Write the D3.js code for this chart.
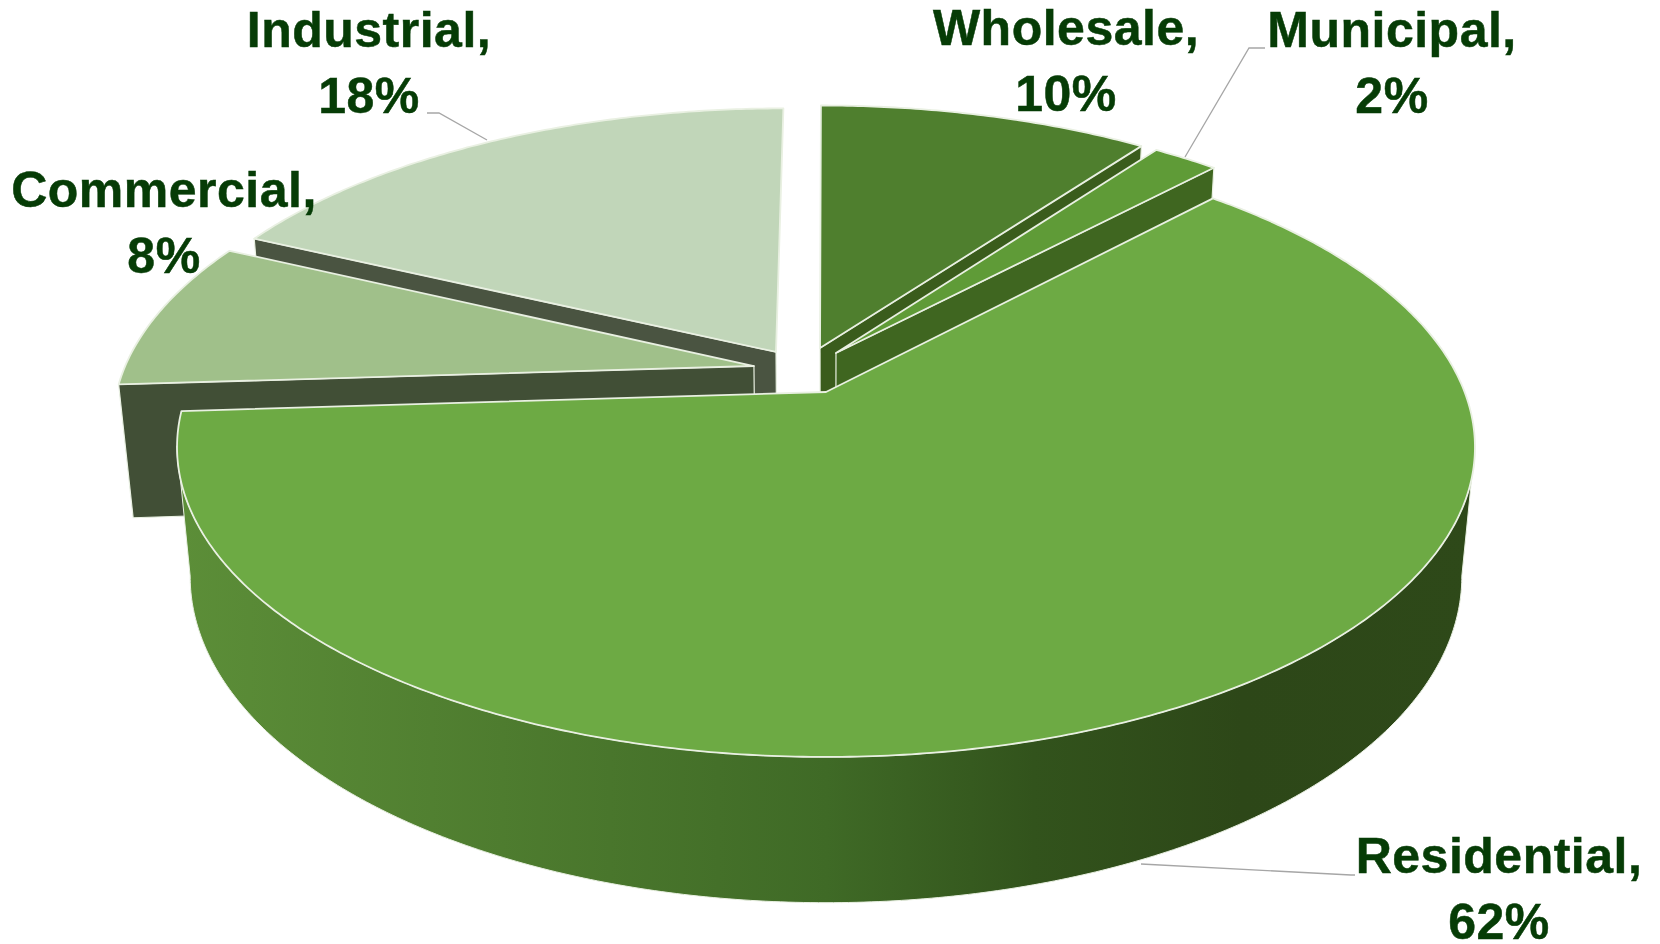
<!DOCTYPE html>
<html><head><meta charset="utf-8">
<script src="https://cdnjs.cloudflare.com/ajax/libs/d3/7.8.5/d3.min.js"></script>
<style>html,body{margin:0;padding:0;background:#fff;overflow:hidden}svg{display:block}</style>
</head><body><svg id="c" width="1660" height="944"></svg>
<script>
// ---- data ----
const categories = ["Wholesale", "Municipal", "Residential", "Commercial", "Industrial"];
const shares = [10, 2, 62, 8, 18];

// ---- styling / layout ----
const faceColors = ["#4f7f2e", "#5f9b37", "#6daa44", "#a0c08a", "#c1d6b9"];
const wallColors = ["#3a5c1c", "#3f6620", "#2f4a1a", "#414f36", "#4a5441"];
const explodeX = [-0.0096, 0.016, 0, -0.1146, -0.0802];
const explodeZ = [-0.1506, -0.133, 0, -0.088, -0.1366];
const wallDepth = [1, 1, 1, 1.05, 1];
const paintOrder = [4, 0, 3, 1, 2];
const labelX = [1066, 1392, 1499, 164, 369];
const labelY = [45, 47, 873, 207, 47];
const labelGap = 66;
const leaderLines = [
  [[427,113],[439,113],[487,140]],
  [[1265,48],[1249,48],[1185,157]],
  [[1355,875],[1351,875],[1141,864]]
];
const rimStops = [[0,"#5c8e38"],[0.25,"#4e7c2f"],[0.5,"#3f6a26"],[0.66,"#32531c"],[0.82,"#2d4718"],[1,"#2e4919"]];

// ---- projection: a disc in perspective ----
const cx = 826, cy = 392, A = 638.6, B = 300, C = 130, k = 0.178, m = 0.02;
function project(X, Z, h) {
  const w = 1 - k * Z + m * h;
  return [cx + A * X / w, cy + (B * Z + C * h) / w];
}
const pies = d3.pie().sort(null).value(d => d).startAngle(0).endAngle(2 * Math.PI)(shares);
const lineGen = d3.line();
const rad = d3.scaleLinear().domain([0, 180]).range([0, Math.PI]);
function rim(i, a, h) {
  return project(Math.sin(a) + explodeX[i], -Math.cos(a) + explodeZ[i], h);
}
function arcPts(i, a0, a1, h) {
  const n = Math.max(2, Math.ceil(Math.abs(a1 - a0) / 0.01));
  return d3.range(n + 1).map(j => rim(i, a0 + (a1 - a0) * j / n, h));
}
const apex = (i, h) => project(explodeX[i], explodeZ[i], h);

const svg = d3.select("#c");
const defs = svg.append("defs");
const grad = defs.append("linearGradient").attr("id", "rimGrad")
  .attr("gradientUnits", "userSpaceOnUse")
  .attr("x1", 178).attr("x2", 1475).attr("y1", 0).attr("y2", 0);
grad.selectAll("stop").data(rimStops).join("stop")
  .attr("offset", d => d[0]).attr("stop-color", d => d[1]);

const edge = "#e9f0e2";
paintOrder.forEach(i => {
  const p = pies[i];
  const g = svg.append("g").attr("class", "slice");
  const a0 = p.startAngle, a1 = p.endAngle;
  if (i === 2) {
    const s = rad(100), e = rad(260);
    const top = arcPts(i, s, e, 0), bot = arcPts(i, e, s, wallDepth[i]);
    g.append("path").attr("d", lineGen(top.concat(bot)) + "Z")
      .attr("fill", "url(#rimGrad)").attr("stroke", edge).attr("stroke-width", 1);
  } else {
    // radial wall on the viewer-facing edge
    const wa = (i === 0 || i === 1) ? a1 : a0;
    const wall = [rim(i, wa, 0), apex(i, 0), apex(i, wallDepth[i]), rim(i, wa, wallDepth[i])];
    g.append("path").attr("d", lineGen(wall) + "Z")
      .attr("fill", wallColors[i]).attr("stroke", edge).attr("stroke-width", 1.2);
  }
  const face = [apex(i, 0)].concat(arcPts(i, a0, a1, 0));
  g.append("path").attr("d", lineGen(face) + "Z")
    .attr("fill", faceColors[i]).attr("stroke", edge).attr("stroke-width", 1.8)
    .attr("stroke-linejoin", "round");
});

// leaders
svg.append("g").selectAll("path").data(leaderLines).join("path")
  .attr("d", d => lineGen(d)).attr("fill", "none")
  .attr("stroke", "#a6a6a6").attr("stroke-width", 1.3);

// labels
const lab = svg.append("g").attr("font-family", "'Liberation Sans', Arial, sans-serif")
  .attr("font-weight", 700).attr("font-size", 50).attr("letter-spacing", 0.5)
  .attr("fill", "#063c06").attr("stroke", "#063c06").attr("stroke-width", 0.5)
  .attr("text-anchor", "middle");
categories.forEach((c, i) => {
  lab.append("text").attr("x", labelX[i]).attr("y", labelY[i]).text(c + ",");
  lab.append("text").attr("x", labelX[i]).attr("y", labelY[i] + labelGap).text(shares[i] + "%");
});
</script></body></html>
